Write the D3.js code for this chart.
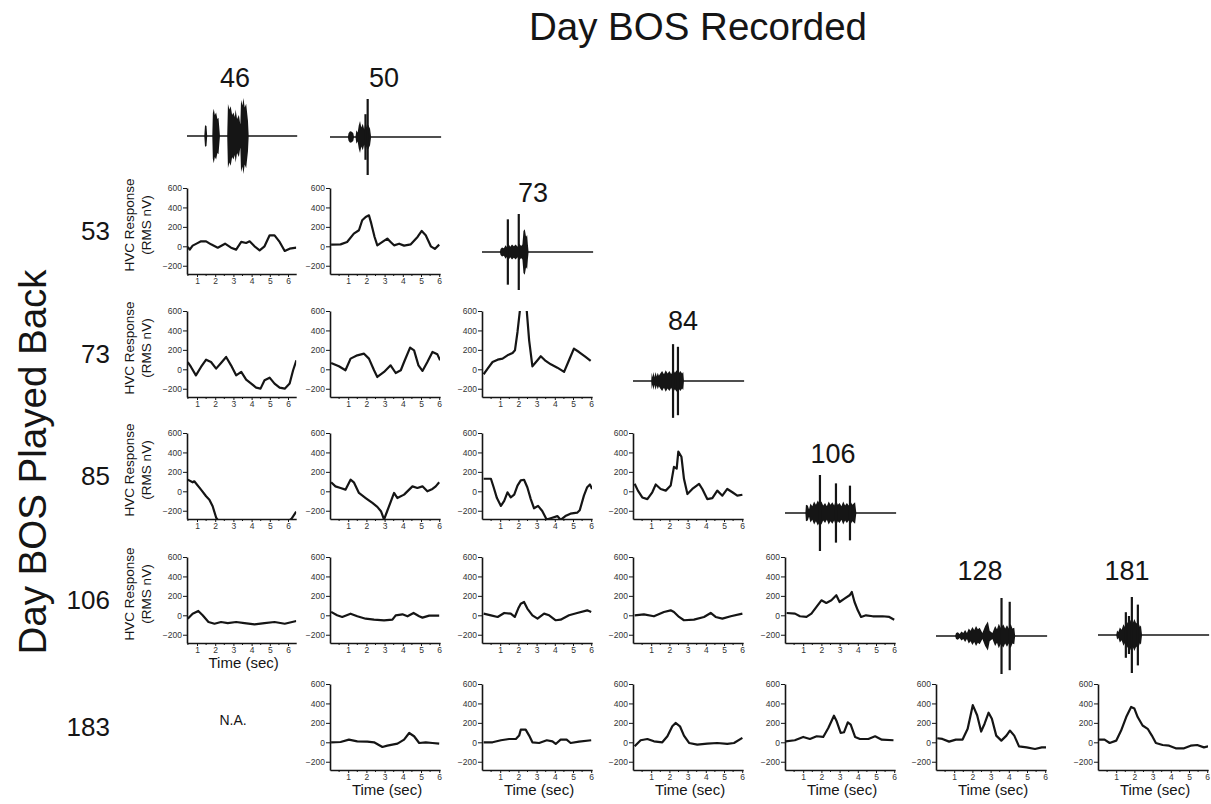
<!DOCTYPE html>
<html>
<head>
<meta charset="utf-8">
<script src="https://cdn.jsdelivr.net/npm/d3@7"></script>
<style>
  html, body { margin: 0; padding: 0; background: #fff; }
  svg { display: block; font-family: "Liberation Sans", Arial, Helvetica, sans-serif; }
</style>
</head>
<body>
<svg id="fig" width="1211" height="804"></svg>
<script>
// Days on which the bird's own song (BOS) was recorded (columns) and played back (rows)
const recordedDays = ["46", "50", "73", "84", "106", "128", "181"];
const playbackDays = ["53", "73", "85", "106", "183"];
const yTickValues = [-200, 0, 200, 400, 600];
const xTickValues = [1, 2, 3, 4, 5, 6];

// HVC response traces, [time (s), RMS nV], one array per playback day x recorded day
const resp53_46 = [[0.49,-7],[0.6,-34],[0.76,7],[1.0,30],[1.22,51],[1.5,51],[1.77,20],[2.14,-14],[2.54,27],[2.87,-14],[3.15,-34],[3.43,45],[3.7,34],[3.89,51],[4.16,0],[4.44,-41],[4.71,0],[4.99,113],[5.26,113],[5.54,45],[5.82,-48],[6.09,-24],[6.46,-14]];
const resp53_50 = [[0.06,17],[0.58,20],[0.94,45],[1.31,130],[1.59,165],[1.77,268],[1.96,302],[2.14,319],[2.27,233],[2.45,96],[2.6,10],[2.88,45],[3.15,79],[3.33,45],[3.52,10],[3.8,27],[4.07,7],[4.44,20],[4.81,96],[5.04,158],[5.26,113],[5.54,0],[5.76,-27],[6.0,17]];

const resp73_46 = [[0.49,75],[0.67,24],[0.94,-62],[1.22,24],[1.5,99],[1.77,75],[2.05,7],[2.32,65],[2.6,127],[2.87,41],[3.15,-62],[3.43,-27],[3.7,-106],[3.98,-147],[4.25,-189],[4.49,-199],[4.71,-113],[4.99,-86],[5.26,-147],[5.54,-189],[5.82,-199],[6.09,-147],[6.28,-10],[6.46,93]];
const resp73_50 = [[0.06,65],[0.49,31],[0.85,-10],[1.13,110],[1.5,144],[1.87,161],[2.14,110],[2.42,-10],[2.6,-79],[2.97,-27],[3.33,41],[3.61,-38],[3.89,-10],[4.07,75],[4.4,223],[4.62,195],[4.86,41],[5.08,-17],[5.35,75],[5.63,178],[5.9,154],[6.05,93]];
const resp73_73 = [[0.09,-51],[0.31,7],[0.58,75],[0.86,99],[1.13,110],[1.4,144],[1.68,168],[1.81,195],[1.95,384],[2.08,600],[2.2,760],[2.35,740],[2.46,600],[2.59,298],[2.77,31],[3.05,93],[3.23,134],[3.5,86],[3.78,51],[4.14,17],[4.51,-27],[4.78,93],[5.05,213],[5.33,178],[5.69,127],[5.97,86]];

const resp85_46 = [[0.49,120],[0.76,93],[0.85,103],[1.22,17],[1.5,-51],[1.68,-86],[1.86,-154],[2.05,-270],[2.3,-340],[3.0,-380],[4.0,-390],[5.0,-380],[5.9,-330],[6.2,-280],[6.45,-210]];
const resp85_50 = [[0.06,93],[0.3,51],[0.58,34],[0.85,17],[1.13,120],[1.31,93],[1.59,-17],[1.96,-69],[2.33,-120],[2.6,-160],[2.8,-205],[2.97,-290],[3.15,-200],[3.35,-100],[3.52,-17],[3.7,-69],[4.07,-34],[4.53,51],[4.8,34],[5.08,51],[5.35,0],[5.63,24],[5.81,51],[6.0,93]];
const resp85_73 = [[0.09,129],[0.49,129],[0.64,42],[0.82,-70],[1.04,-150],[1.22,-98],[1.4,-10],[1.58,-63],[1.77,-35],[1.95,59],[2.13,112],[2.31,119],[2.49,42],[2.68,-80],[2.86,-175],[3.08,-150],[3.31,-202],[3.55,-290],[3.86,-272],[4.14,-255],[4.32,-293],[4.58,-255],[4.86,-230],[5.23,-220],[5.37,-195],[5.6,-45],[5.78,42],[5.93,70],[6.05,24]];
const resp85_84 = [[0.09,77],[0.27,7],[0.51,-63],[0.79,-80],[1.06,-10],[1.25,70],[1.52,24],[1.8,7],[2.07,59],[2.25,251],[2.4,234],[2.49,408],[2.66,356],[2.8,129],[2.99,-28],[3.26,24],[3.63,77],[3.81,24],[4.08,-80],[4.36,-70],[4.63,7],[4.91,-45],[5.18,24],[5.46,-10],[5.73,-45],[6.01,-35]];

const resp106_46 = [[0.49,-35],[0.76,17],[1.07,45],[1.31,0],[1.63,-69],[1.96,-87],[2.32,-69],[2.69,-80],[3.15,-69],[3.61,-80],[4.16,-94],[4.71,-80],[5.26,-69],[5.82,-87],[6.46,-59]];
const resp106_50 = [[0.06,35],[0.39,0],[0.67,-17],[1.13,17],[1.5,-10],[1.96,-35],[2.42,-45],[2.97,-52],[3.43,-45],[3.61,0],[3.98,10],[4.26,-10],[4.59,24],[4.9,-10],[5.08,-24],[5.45,-3],[6.0,-3]];
const resp106_73 = [[0.09,17],[0.49,0],[0.86,-17],[1.22,24],[1.58,17],[1.8,-17],[1.99,69],[2.13,120],[2.31,137],[2.49,69],[2.77,0],[3.05,-34],[3.41,17],[3.69,0],[4.05,-51],[4.32,-45],[4.78,0],[5.23,24],[5.78,51],[6.0,34]];
const resp106_84 = [[0.09,0],[0.6,10],[1.15,-10],[1.7,34],[2.07,51],[2.25,34],[2.53,-17],[2.8,-51],[3.35,-45],[3.9,-17],[4.27,24],[4.54,-17],[4.91,-34],[5.37,-10],[6.01,17]];
const resp106_106 = [[0.09,24],[0.55,17],[0.82,-10],[1.18,-17],[1.45,17],[1.73,86],[2.0,154],[2.27,127],[2.55,154],[2.82,206],[3.0,137],[3.27,171],[3.55,206],[3.67,240],[3.82,137],[4.0,51],[4.18,-17],[4.45,0],[4.82,-10],[5.36,-10],[5.73,-17],[6.0,-45]];

const resp183_50 = [[0.06,0],[0.58,3],[1.04,27],[1.5,10],[2.05,7],[2.42,0],[2.88,-48],[3.15,-34],[3.71,-14],[4.07,27],[4.35,96],[4.62,62],[4.9,-7],[5.26,0],[5.63,-7],[6.0,-14]];
const resp183_73 = [[0.09,0],[0.58,0],[1.04,21],[1.49,34],[1.86,34],[2.04,69],[2.13,130],[2.4,130],[2.59,69],[2.77,0],[3.14,-7],[3.56,21],[3.87,10],[4.05,-17],[4.32,27],[4.65,27],[4.87,-7],[5.33,7],[6.0,21]];
const resp183_84 = [[0.09,-41],[0.42,21],[0.79,34],[1.15,10],[1.61,0],[1.89,62],[2.16,165],[2.34,199],[2.58,165],[2.8,69],[3.08,-7],[3.53,-24],[4.08,-14],[4.63,-7],[5.18,-17],[5.55,-7],[6.01,45]];
const resp183_106 = [[0.04,10],[0.54,21],[1.0,55],[1.37,34],[1.74,62],[2.1,55],[2.38,147],[2.69,274],[2.84,216],[3.06,96],[3.24,103],[3.45,206],[3.61,182],[3.85,55],[4.12,34],[4.58,34],[4.95,62],[5.32,27],[5.96,21]];
const resp183_128 = [[0.07,42],[0.35,35],[0.72,7],[1.09,28],[1.46,28],[1.74,139],[2.02,382],[2.26,278],[2.48,111],[2.67,191],[2.89,305],[3.07,243],[3.31,69],[3.59,17],[3.87,69],[4.06,121],[4.3,69],[4.56,-42],[4.98,-52],[5.44,-69],[5.81,-52],[6.05,-52]];
const resp183_181 = [[0.05,28],[0.36,28],[0.64,-7],[1.0,17],[1.27,121],[1.55,260],[1.82,364],[2.0,347],[2.18,260],[2.45,173],[2.73,139],[2.96,69],[3.18,-7],[3.55,-28],[3.91,-35],[4.27,-62],[4.73,-62],[5.09,-35],[5.45,-28],[5.82,-52],[6.05,-42]];

// Song oscillogram envelopes, [time (s), relative amplitude], and tall single peaks
const song46 = [[1.40,0],[1.44,0.28],[1.52,0.26],[1.56,0],[1.84,0],[1.87,0.6],[1.92,0.72],[1.98,0.55],[2.05,0.62],[2.12,0.45],[2.18,0.48],[2.26,0],[2.66,0],[2.7,0.84],[2.78,0.7],[2.85,0.78],[2.93,0.55],[3.0,0.62],[3.08,0.5],[3.12,0.7],[3.2,0.45],[3.3,0.55],[3.38,0.3],[3.42,0.95],[3.5,0.8],[3.55,1.0],[3.62,0.75],[3.7,0.85],[3.8,0.4],[3.84,0]];
const peaks46 = [];
const song50 = [[0.98,0],[1.02,0.1],[1.1,0.15],[1.2,0.14],[1.28,0.1],[1.32,0],[1.40,0],[1.45,0.18],[1.52,0.12],[1.58,0.3],[1.65,0.42],[1.72,0.25],[1.8,0.35],[1.88,0.2],[1.95,0.4],[2.02,0.25],[2.1,0.32],[2.2,0.22],[2.26,0]];
const peaks50 = [[2.07,1.0],[1.95,0.6]];
const song73 = [[0.98,0],[1.02,0.08],[1.1,0.12],[1.2,0.1],[1.3,0.18],[1.38,0.12],[1.45,0.22],[1.55,0.14],[1.65,0.2],[1.75,0.15],[1.85,0.2],[1.95,0.14],[2.05,0.22],[2.15,0.16],[2.22,0.2],[2.28,0.55],[2.35,0.6],[2.42,0.4],[2.48,0.45],[2.52,0.2],[2.56,0]];
const peaks73 = [[1.42,0.86],[2.02,1.0]];
const song84 = [[1.0,0],[1.03,0.22],[1.08,0.1],[1.13,0.24],[1.18,0.1],[1.24,0.24],[1.3,0.12],[1.36,0.22],[1.42,0.14],[1.5,0.2],[1.6,0.26],[1.7,0.18],[1.8,0.28],[1.9,0.2],[2.0,0.26],[2.1,0.18],[2.2,0.3],[2.3,0.22],[2.4,0.28],[2.5,0.2],[2.6,0.26],[2.7,0.2],[2.76,0.24],[2.8,0]];
const peaks84 = [[2.2,0.97],[2.47,0.9]];
const song106 = [[1.12,0],[1.15,0.22],[1.25,0.2],[1.32,0.1],[1.4,0.25],[1.5,0.18],[1.6,0.3],[1.7,0.22],[1.8,0.33],[1.9,0.25],[2.0,0.3],[2.1,0.2],[2.2,0.26],[2.3,0.18],[2.4,0.3],[2.5,0.22],[2.6,0.28],[2.7,0.2],[2.8,0.34],[2.9,0.22],[3.0,0.26],[3.1,0.18],[3.2,0.3],[3.3,0.2],[3.4,0.26],[3.5,0.2],[3.6,0.3],[3.7,0.22],[3.85,0.28],[3.92,0]];
const peaks106 = [[1.92,1.0],[2.8,0.78],[3.57,0.72]];
const song128 = [[1.05,0],[1.1,0.08],[1.2,0.1],[1.3,0.05],[1.4,0.12],[1.5,0.08],[1.6,0.16],[1.7,0.08],[1.8,0.2],[1.9,0.14],[2.0,0.24],[2.1,0.16],[2.2,0.26],[2.3,0.18],[2.4,0.22],[2.55,0.08],[2.7,0.26],[2.85,0.38],[2.95,0.14],[3.1,0.08],[3.25,0.26],[3.35,0.18],[3.45,0.32],[3.55,0.22],[3.7,0.3],[3.8,0.2],[3.9,0.28],[4.0,0.2],[4.1,0.32],[4.2,0.2],[4.3,0.22],[4.35,0]];
const peaks128 = [[3.6,1.0],[4.05,0.9]];
const song181 = [[1.0,0],[1.05,0.12],[1.12,0.08],[1.2,0.2],[1.3,0.14],[1.4,0.28],[1.5,0.2],[1.6,0.34],[1.7,0.26],[1.8,0.4],[1.9,0.3],[2.0,0.42],[2.1,0.3],[2.2,0.36],[2.3,0.22],[2.36,0.25],[2.42,0]];
const peaks181 = [[1.53,0.6],[1.7,0.5],[1.86,1.0],[2.19,0.8]];

// Which traces go in which grid cell
const traceTable = [
  { play: "53",  rec: "46",  values: resp53_46 },
  { play: "53",  rec: "50",  values: resp53_50 },
  { play: "73",  rec: "46",  values: resp73_46 },
  { play: "73",  rec: "50",  values: resp73_50 },
  { play: "73",  rec: "73",  values: resp73_73 },
  { play: "85",  rec: "46",  values: resp85_46 },
  { play: "85",  rec: "50",  values: resp85_50 },
  { play: "85",  rec: "73",  values: resp85_73 },
  { play: "85",  rec: "84",  values: resp85_84 },
  { play: "106", rec: "46",  values: resp106_46 },
  { play: "106", rec: "50",  values: resp106_50 },
  { play: "106", rec: "73",  values: resp106_73 },
  { play: "106", rec: "84",  values: resp106_84 },
  { play: "106", rec: "106", values: resp106_106 },
  { play: "183", rec: "50",  values: resp183_50 },
  { play: "183", rec: "73",  values: resp183_73 },
  { play: "183", rec: "84",  values: resp183_84 },
  { play: "183", rec: "106", values: resp183_106 },
  { play: "183", rec: "128", values: resp183_128 },
  { play: "183", rec: "181", values: resp183_181 }
];
const songTable = [
  { rec: "46",  env: song46,  peaks: peaks46 },
  { rec: "50",  env: song50,  peaks: peaks50 },
  { rec: "73",  env: song73,  peaks: peaks73 },
  { rec: "84",  env: song84,  peaks: peaks84 },
  { rec: "106", env: song106, peaks: peaks106 },
  { rec: "128", env: song128, peaks: peaks128 },
  { rec: "181", env: song181, peaks: peaks181 }
];

// ---- layout ----
const colAxisX = [187, 330, 482, 633, 785, 936, 1098];
const colTimeDomain = [[0.45, 6.45], [0, 6.05], [0, 6.05], [0, 6.05], [0, 6.05], [0, 6.05], [0, 6.05]];
const pxPerSec = 18.2;
const rowTop = [188, 311, 433, 557, 684];
const yDomain = [-285, 600];
const panelH = 86;
const songCenterY = [136, 137, 252, 381, 513, 636, 635];
const songLabelY = [87, 87, 202, 330, 463, 580, 580];
const songLabelX = [235, 384, 533, 683, 833, 980, 1127];
const songAmp = 38;
const ink = "#151515";

const svg = d3.select("#fig");

function xScaleFor(ci) {
  const dom = colTimeDomain[ci];
  return d3.scaleLinear().domain(dom).range([colAxisX[ci], colAxisX[ci] + (dom[1] - dom[0]) * pxPerSec]);
}
function yScaleFor(ri) {
  return d3.scaleLinear().domain(yDomain).range([rowTop[ri] + panelH, rowTop[ri]]);
}

// titles
svg.append("text")
  .attr("x", 698).attr("y", 40)
  .attr("text-anchor", "middle")
  .attr("font-size", 38.5).attr("fill", ink)
  .text("Day BOS Recorded");

svg.append("text")
  .attr("transform", "translate(46,462) rotate(-90)")
  .attr("text-anchor", "middle")
  .attr("font-size", 38.5).attr("fill", ink)
  .text("Day BOS Played Back");

// playback-day row labels
svg.selectAll("text.rowlab").data(playbackDays).join("text")
  .attr("class", "rowlab")
  .attr("x", 110)
  .attr("y", (d, i) => rowTop[i] + 52)
  .attr("text-anchor", "end")
  .attr("font-size", 26).attr("fill", ink)
  .text(d => d);

// y-axis titles for the first column
playbackDays.slice(0, 4).forEach((d, ri) => {
  const cy = rowTop[ri] + 37;
  const g = svg.append("g").attr("font-size", 13.5).attr("fill", ink).attr("text-anchor", "middle");
  g.append("text").attr("transform", `translate(134,${cy}) rotate(-90)`).text("HVC Response");
  g.append("text").attr("transform", `translate(151,${cy}) rotate(-90)`).text("(RMS nV)");
});

// N.A. cell
svg.append("text")
  .attr("x", 233).attr("y", 725)
  .attr("text-anchor", "middle")
  .attr("font-size", 14).attr("fill", ink)
  .text("N.A.");

const defs = svg.append("defs");
const line = d3.line();

// response panels
traceTable.forEach((p, k) => {
  const ci = recordedDays.indexOf(p.rec);
  const ri = playbackDays.indexOf(p.play);
  const x = xScaleFor(ci);
  const y = yScaleFor(ri);
  const g = svg.append("g");

  const clipId = "clip" + k;
  defs.append("clipPath").attr("id", clipId)
    .append("rect")
    .attr("x", x.range()[0]).attr("y", y(600))
    .attr("width", x.range()[1] - x.range()[0])
    .attr("height", y(yDomain[0]) - y(600));

  // x axis
  const xa = g.append("g")
    .attr("transform", `translate(0,${y(yDomain[0])})`)
    .call(d3.axisBottom(x).tickValues(xTickValues).tickSize(3).tickSizeOuter(0).tickPadding(1).tickFormat(d3.format("d")));
  // half-second minor ticks
  xa.selectAll("line.minor")
    .data(d3.range(Math.ceil(x.domain()[0] * 2) / 2, x.domain()[1] + 0.001, 0.5).filter(t => t % 1 !== 0))
    .join("line").attr("class", "minor")
    .attr("x1", t => x(t)).attr("x2", t => x(t))
    .attr("y1", 0).attr("y2", 2)
    .attr("stroke", ink).attr("stroke-width", 1);

  // y axis
  const ya = g.append("g")
    .attr("transform", `translate(${x.range()[0]},0)`)
    .call(d3.axisLeft(y).tickValues(yTickValues).tickSize(4).tickSizeOuter(0).tickPadding(1));

  [xa, ya].forEach(a => {
    a.select(".domain").attr("stroke", ink).attr("stroke-width", 1.6);
    a.selectAll(".tick line").attr("stroke", ink).attr("stroke-width", 1);
    a.selectAll(".tick text").attr("font-size", 8.5).attr("fill", "#333")
      .attr("font-family", "'Liberation Sans', Arial, sans-serif");
  });

  // trace
  g.append("path")
    .datum(p.values)
    .attr("clip-path", `url(#${clipId})`)
    .attr("d", line.x(d => x(d[0])).y(d => y(d[1])))
    .attr("fill", "none")
    .attr("stroke", ink)
    .attr("stroke-width", 2.2)
    .attr("stroke-linejoin", "round");

  // time axis title under the bottom panel of each column
  const isBottom = (p.play === "183") || (p.play === "106" && p.rec === "46");
  if (isBottom) {
    g.append("text")
      .attr("x", (x.range()[0] + x.range()[1]) / 2 + 2)
      .attr("y", y(yDomain[0]) + 25)
      .attr("text-anchor", "middle")
      .attr("font-size", 15).attr("fill", ink)
      .text("Time (sec)");
  }
});

// song oscillograms with their recording-day labels
songTable.forEach(s => {
  const ci = recordedDays.indexOf(s.rec);
  const x = xScaleFor(ci);
  const cy = songCenterY[ci];
  const a = d3.scaleLinear().domain([-1, 1]).range([cy + songAmp, cy - songAmp]);
  const g = svg.append("g");

  g.append("text")
    .attr("x", songLabelX[ci]).attr("y", songLabelY[ci])
    .attr("text-anchor", "middle")
    .attr("font-size", 27).attr("fill", ink)
    .text(s.rec);

  g.append("line")
    .attr("x1", x.range()[0]).attr("x2", x.range()[1] + 1)
    .attr("y1", cy).attr("y2", cy)
    .attr("stroke", ink).attr("stroke-width", 1.6);

  g.append("path")
    .datum(s.env)
    .attr("d", d3.area().x(d => x(d[0])).y0(d => a(-d[1])).y1(d => a(d[1])))
    .attr("fill", ink);

  g.selectAll("line.peak").data(s.peaks).join("line")
    .attr("class", "peak")
    .attr("x1", d => x(d[0])).attr("x2", d => x(d[0]))
    .attr("y1", d => a(-d[1])).attr("y2", d => a(d[1]))
    .attr("stroke", ink).attr("stroke-width", 2.2);
});
</script>
</body>
</html>
